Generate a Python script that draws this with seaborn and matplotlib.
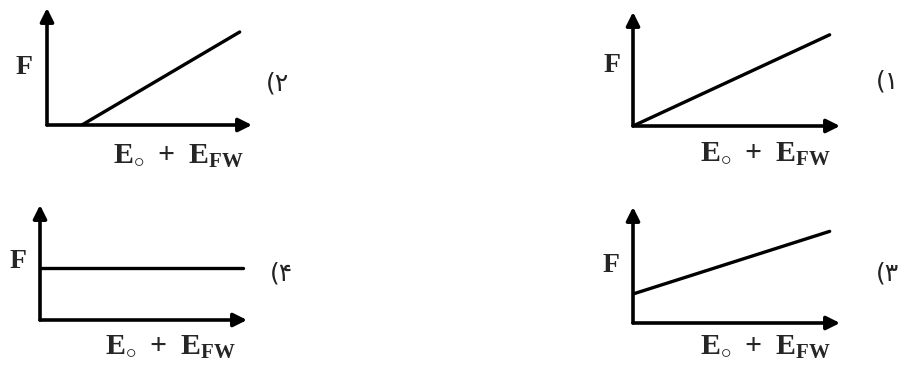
import matplotlib
matplotlib.use("Agg")
import matplotlib.pyplot as plt
import seaborn as sns
import pandas as pd

sns.set_style("white")
plt.rcParams["font.family"] = ["Liberation Serif", "DejaVu Sans"]
plt.rcParams["mathtext.fontset"] = "custom"
plt.rcParams["mathtext.rm"] = "Liberation Serif:bold"
plt.rcParams["mathtext.it"] = "Liberation Serif:bold"
plt.rcParams["mathtext.bf"] = "Liberation Serif:bold"

# gezeichnete Geraden (Achsen laufen jeweils 0..10)
optionen = ["(۱", "(۲", "(۳", "(۴"]
x_werte = [[0.0, 9.5], [1.7, 9.4], [0.0, 9.5], [0.0, 9.8]]
y_werte = [[0.0, 8.0], [0.0, 7.95], [2.5, 7.9], [4.5, 4.5]]
y_label = "F"
x_label = "E$_{\\circ}$ \u2009+\u2009 E$_{FW}$"

# Lage der Diagramme in Pixeln: (links, oben, rechts, unten) der Achsen
W, H = 906, 365
boxen = [(633, 12, 840, 126), (47, 8, 252, 125), (633, 207, 840, 323), (40, 205, 247, 320)]
# Textpositionen in Pixeln: F, Nummer, x-Beschriftung
f_pos = [(612, 66), (24, 68), (611, 265), (18, 262)]
nr_pos = [(887, 81), (278, 83), (887, 273), (282, 273)]
xl_pos = [(765, 162), (178, 164), (765, 355), (170, 355)]

fig = plt.figure(figsize=(W / 100, H / 100), dpi=100)

for i in range(4):
    l, t, r, b = boxen[i]
    ax = fig.add_axes([l / W, 1 - b / H, (r - l) / W, (b - t) / H])
    df = pd.DataFrame({"x": x_werte[i], "y": y_werte[i]})
    sns.lineplot(data=df, x="x", y="y", ax=ax, color="black", lw=2.4)
    ax.set_xlim(0, 10)
    ax.set_ylim(0, 10)
    ax.set_axis_off()
    # Achsen mit Pfeilspitzen
    for ende in [(1.0, 0.0), (0.0, 1.0)]:
        ax.annotate("", xy=ende, xytext=(0, 0), xycoords="axes fraction",
                    arrowprops=dict(arrowstyle="-|>", lw=2.6, color="black",
                                    mutation_scale=20, shrinkA=0, shrinkB=0))

    fig.text(f_pos[i][0] / W, 1 - f_pos[i][1] / H, y_label, fontsize=20,
             fontweight="bold", ha="center", va="center")
    fig.text(nr_pos[i][0] / W, 1 - nr_pos[i][1] / H, optionen[i], fontsize=18,
             ha="center", va="center", family=["DejaVu Sans"], color="#222222")
    fig.text(xl_pos[i][0] / W, 1 - xl_pos[i][1] / H, x_label, fontsize=21.5,
             fontweight="bold", ha="center", va="baseline")

fig.savefig("out.png", dpi=100)
